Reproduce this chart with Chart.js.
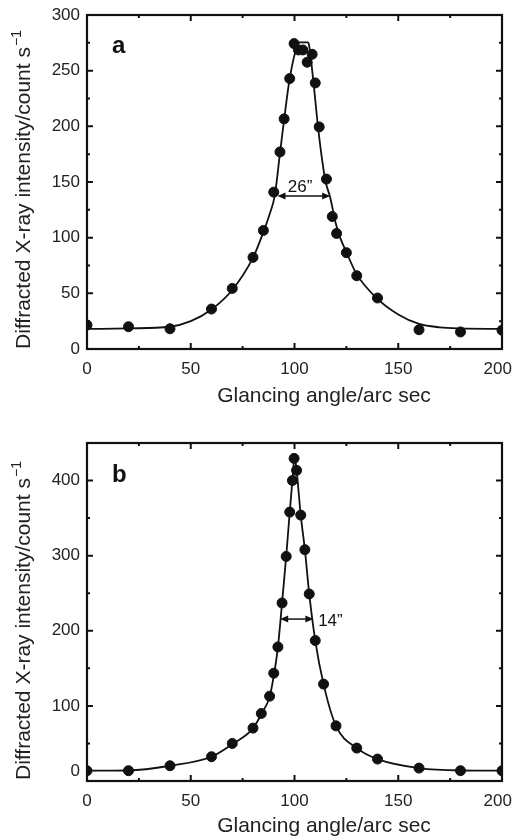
<!DOCTYPE html>
<html>
<head>
<meta charset="utf-8">
<script src="https://cdn.jsdelivr.net/npm/chart.js@4.4.1/dist/chart.umd.min.js"></script>
<style>
  html, body { margin: 0; padding: 0; background: #fff; }
  canvas { display: block; }
</style>
</head>
<body>
<canvas id="chartA" width="514" height="410"></canvas>
<canvas id="chartB" width="514" height="428"></canvas>
<script>
// panel a: measured points
const angleA = [0, 20, 40, 60, 70, 80, 85, 90, 93, 95, 97.7, 99.8, 101.9, 104, 106.1, 108.5, 110, 111.9, 115.4, 118.2, 120.3, 125, 130, 140, 160, 180, 200];
const intensityA = [21.5, 20, 18.2, 35.9, 54.4, 82.3, 106.5, 140.9, 177, 206.7, 242.9, 274.3, 268.6, 268.6, 257.6, 264.7, 239, 199.5, 152.6, 119, 103.8, 86.5, 65.8, 45.8, 17.3, 15.3, 16.8];
// panel a: fitted curve
const fitAngleA = [0, 20, 40, 50, 60, 70, 80, 85, 88, 90.5, 93, 95, 97.6, 101.4, 102.5, 106.5, 107, 109, 111.6, 114.8, 117.2, 120, 122, 125, 130, 140, 150, 160, 170, 180, 200];
const fitIntensityA = [18, 18.5, 20, 25, 35.5, 53, 82, 105, 121, 138, 176, 206, 242, 273, 275.5, 275.5, 273, 242, 195, 152, 136, 112, 100, 87, 67, 45, 31, 22.5, 19.5, 18.5, 18];

// panel b: measured points
const angleB = [0, 20, 40, 60, 70, 80, 84, 88, 90, 92, 94, 96, 97.7, 99, 99.8, 101, 103, 105, 107.1, 110, 114, 120, 130, 140, 160, 180, 200];
const intensityB = [13.7, 13.7, 20.3, 32.3, 50, 70.4, 89.9, 112.9, 143.5, 178.5, 237, 299, 358, 400, 429.5, 413.6, 354, 308, 249, 187, 129, 73.4, 43.8, 29.2, 17.2, 13.7, 13.7];
// panel b: fitted curve
const fitAngleB = [0, 20, 40, 60, 70, 80, 84, 88, 90, 92, 94, 96, 97.7, 99, 100, 101, 103, 105, 107.1, 110, 114, 120, 130, 140, 160, 180, 200];
const fitIntensityB = [13.7, 14, 20.3, 32.3, 49, 70, 89, 112, 140, 178, 237, 299, 358, 400, 432, 414, 354, 308, 249, 187, 129, 73.4, 43.8, 29.2, 17.2, 14, 13.7];

const xMajor = [0, 50, 100, 150, 200];
const xMinor = [25, 75, 125, 175];
const yMajorA = [0, 50, 100, 150, 200, 250, 300];
const yMinorA = [25, 75, 125, 175, 225, 275];
const yMajorB = [0, 100, 200, 300, 400];
const yMinorB = [50, 150, 250, 350];

const xTitle = 'Glancing angle/arc sec';
const yTitle = 'Diffracted X-ray intensity/count s';

const toXY = (xs, ys) => xs.map((v, i) => ({ x: v, y: ys[i] }));

const frame = {
  id: 'frame',
  afterDraw(chart, args, o) {
    const { ctx, chartArea: a, scales: { x, y } } = chart;
    ctx.save();
    ctx.strokeStyle = '#111';
    ctx.fillStyle = '#111';

    // inward ticks on all four sides
    ctx.lineWidth = 2;
    const tickX = (vals, len) => vals.forEach(v => {
      const px = x.getPixelForValue(v);
      ctx.beginPath();
      ctx.moveTo(px, a.bottom); ctx.lineTo(px, a.bottom - len);
      ctx.moveTo(px, a.top); ctx.lineTo(px, a.top + len);
      ctx.stroke();
    });
    const tickY = (vals, len) => vals.forEach(v => {
      const py = y.getPixelForValue(v);
      ctx.beginPath();
      ctx.moveTo(a.left, py); ctx.lineTo(a.left + len, py);
      ctx.moveTo(a.right, py); ctx.lineTo(a.right - len, py);
      ctx.stroke();
    });
    tickX(o.xMajor, 6); tickX(o.xMinor, 3);
    tickY(o.yMajor, 6); tickY(o.yMinor, 3);

    ctx.lineWidth = 2.2;
    ctx.strokeRect(a.left, a.top, a.right - a.left, a.bottom - a.top);

    // panel letter
    ctx.font = 'bold 24px "Liberation Sans", Arial, sans-serif';
    ctx.textAlign = 'left';
    ctx.textBaseline = 'alphabetic';
    ctx.fillText(o.letter, 112, o.letterY);

    // width arrow
    const x1 = x.getPixelForValue(o.arrow[0]);
    const x2 = x.getPixelForValue(o.arrow[1]);
    const ay = y.getPixelForValue(o.arrow[2]);
    ctx.lineWidth = 1.5;
    ctx.beginPath(); ctx.moveTo(x1 + 4, ay); ctx.lineTo(x2 - 4, ay); ctx.stroke();
    [[x1, 1], [x2, -1]].forEach(([px, d]) => {
      ctx.beginPath();
      ctx.moveTo(px, ay);
      ctx.lineTo(px + d * 8, ay - 3.5);
      ctx.lineTo(px + d * 8, ay + 3.5);
      ctx.closePath();
      ctx.fill();
    });
    ctx.font = '17px "Liberation Sans", Arial, sans-serif';
    ctx.textAlign = o.labelAlign;
    ctx.fillText(o.label, x.getPixelForValue(o.labelAt[0]), y.getPixelForValue(o.labelAt[1]));

    // stray zero label
    if (o.zeroAt !== undefined) {
      ctx.font = '17px "Liberation Sans", Arial, sans-serif';
      ctx.textAlign = 'right';
      ctx.textBaseline = 'middle';
      ctx.fillStyle = '#222';
      ctx.fillText('0', a.left - 7, y.getPixelForValue(o.zeroAt));
      ctx.fillStyle = '#111';
    }

    // axis titles
    ctx.fillStyle = '#222';
    ctx.font = '21px "Liberation Sans", Arial, sans-serif';
    ctx.textAlign = 'center';
    ctx.textBaseline = 'alphabetic';
    ctx.fillText(xTitle, 324, o.xTitleY);

    ctx.translate(29.5, o.yTitleY);
    ctx.rotate(-Math.PI / 2);
    const w1 = ctx.measureText(yTitle).width;
    ctx.font = '14px "Liberation Sans", Arial, sans-serif';
    const w2 = ctx.measureText('\u22121').width;
    const start = -(w1 + w2) / 2;
    ctx.textAlign = 'left';
    ctx.fillText('\u22121', start + w1 + 1, -9);
    ctx.font = '21px "Liberation Sans", Arial, sans-serif';
    ctx.fillText(yTitle, start, 0);
    ctx.restore();
  }
};

function makeChart(id, pts, fit, yMax, yStep, top, xAxisH, opts, hideZero) {
  return new Chart(document.getElementById(id), {
    type: 'scatter',
    data: {
      datasets: [{
        data: fit,
        showLine: true,
        borderColor: '#111',
        borderWidth: 1.8,
        pointRadius: 0,
        cubicInterpolationMode: 'monotone',
        fill: false
      }, {
        data: pts,
        backgroundColor: '#111',
        borderColor: '#111',
        pointRadius: 5,
        showLine: false
      }]
    },
    options: {
      responsive: false,
      animation: false,
      devicePixelRatio: 1,
      layout: { padding: { left: 0, right: 12, top: top, bottom: 0 } },
      plugins: {
        legend: { display: false },
        tooltip: { enabled: false },
        frame: opts
      },
      scales: {
        x: {
          type: 'linear',
          min: 0,
          max: 200,
          grid: { display: false, drawTicks: false },
          border: { display: false },
          ticks: {
            stepSize: 50,
            padding: 10,
            maxRotation: 0,
            color: '#222',
            font: { family: '"Liberation Sans", Arial, sans-serif', size: 17 },
            // last label sits a little left of its tick, as in the original
            callback: (v) => v === 200 ? '200\u2002' : v
          },
          afterFit: (s) => { s.height = xAxisH; s.paddingLeft = 0; s.paddingRight = 0; }
        },
        y: {
          min: 0,
          max: yMax,
          grid: { display: false, drawTicks: false },
          border: { display: false },
          ticks: {
            stepSize: yStep,
            includeBounds: false,
            padding: 7,
            color: '#222',
            font: { family: '"Liberation Sans", Arial, sans-serif', size: 17 },
            callback: (v) => (hideZero && v === 0) ? '' : v
          },
          afterFit: (s) => { s.width = 87; s.paddingTop = 0; s.paddingBottom = 0; }
        }
      }
    },
    plugins: [frame]
  });
}

makeChart('chartA', toXY(angleA, intensityA), toXY(fitAngleA, fitIntensityA), 300, 50, 15, 61, {
  xMajor: xMajor, xMinor: xMinor, yMajor: yMajorA, yMinor: yMinorA,
  letter: 'a', letterY: 53,
  arrow: [91.8, 117.2, 137.5], label: '26\u201D', labelAt: [102.7, 141], labelAlign: 'center',
  xTitleY: 402, yTitleY: 190
}, false);

makeChart('chartB', toXY(angleB, intensityB), toXY(fitAngleB, fitIntensityB), 450, 100, 33, 57, {
  xMajor: xMajor, xMinor: xMinor, yMajor: yMajorB, yMinor: yMinorB,
  letter: 'b', letterY: 72,
  arrow: [93.1, 109.1, 215.6], label: '14\u201D', labelAt: [111.4, 206], labelAlign: 'left',
  zeroAt: 13,
  xTitleY: 422, yTitleY: 211
}, true);
</script>
</body>
</html>
